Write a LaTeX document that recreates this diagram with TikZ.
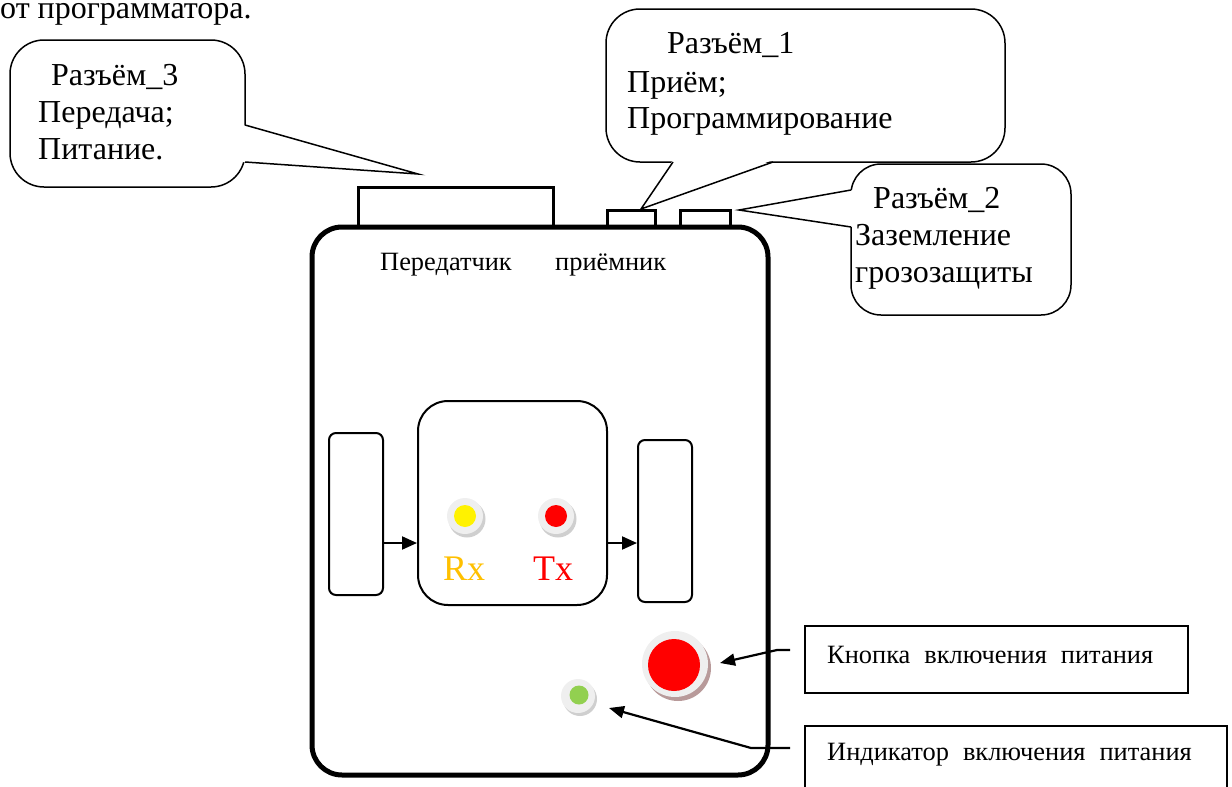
\documentclass[tikz,border=0pt]{standalone}
\usepackage{fontspec}
\setmainfont{Liberation Serif}
\usetikzlibrary{arrows.meta}
\definecolor{rxcol}{HTML}{FFC000}
\definecolor{ledgreen}{HTML}{92D050}
\definecolor{bezel}{HTML}{EFEFEF}
\definecolor{bezelshadow}{HTML}{CFCFCF}
\definecolor{btnshadow}{HTML}{B89A9A}
\begin{document}
\begin{tikzpicture}[x=1pt,y=-1pt,
  callout/.style={draw, line width=1.5pt, rounded corners=34pt, fill=white, inner sep=0pt},
  tail/.style={line width=1.5pt},
  big/.style={anchor=base west, inner sep=0pt, font=\fontsize{32}{38}\selectfont},
  small/.style={anchor=base west, inner sep=0pt, font=\fontsize{26.4}{30}\selectfont},
  lbl/.style={anchor=base west, inner sep=0pt, font=\fontsize{26.4}{30}\selectfont},
  conn/.style={draw, line width=3pt, inner sep=0pt, fill=white},
  body/.style={draw, line width=5pt, rounded corners=30pt, inner sep=0pt},
  part/.style={draw, line width=2pt, inner sep=0pt},
  infobox/.style={draw, line width=2pt, inner sep=0pt},
  arr/.style={line width=2.2pt, -{Triangle[length=15pt,width=12pt]}},
  sharr/.style={line width=2pt, -{Triangle[length=15pt,width=13pt]}}
]
\useasboundingbox (0,0) rectangle (1232,787);

% top text
\node[big] (prog) at (0,19) {от программатора.};

% callout 3
\node[callout, minimum width=235pt, minimum height=147pt] (c3) at (127.5,113.5) {};
\fill[white] (243,125) -- (418,174) -- (243,162) -- cycle;
\coordinate (c3a) at (245,125);
\coordinate (c3b) at (245,162);
\coordinate (c3tip) at (418,174);
\draw[tail] (c3a) -- (c3tip) -- (c3b);
\node[big] (t3a) at (51,85) {Разъём\_3};
\node[big] (t3b) at (38,122) {Передача;};
\node[big] (t3c) at (38,159) {Питание.};

% callout 1
\node[callout, minimum width=399pt, minimum height=153pt] (c1) at (805.5,85.5) {};
\fill[white] (673,160) -- (641,209) -- (773,160) -- cycle;
\coordinate (c1a) at (673,162);
\coordinate (c1b) at (773,162);
\coordinate (c1tip) at (641,209);
\draw[tail] (c1a) -- (c1tip) -- (c1b);
\node[big] (t1a) at (667,53) {Разъём\_1};
\node[big] (t1b) at (627,92) {Приём;};
\node[big] (t1c) at (627,128) {Программирование};

% callout 2
\node[callout, rounded corners=30pt, minimum width=220pt, minimum height=151pt] (c2) at (961,239.5) {};
\fill[white] (853,190) -- (739,210) -- (853,227) -- cycle;
\coordinate (c2a) at (851,190);
\coordinate (c2b) at (851,227);
\coordinate (c2tip) at (739,210);
\draw[tail] (c2a) -- (c2tip) -- (c2b);
\node[big] (t2a) at (873,208) {Разъём\_2};
\node[big] (t2b) at (855,245) {Заземление};
\node[big] (t2c) at (855,282) {грозозащиты};

% connectors on top
\node[conn, minimum width=195pt, minimum height=40pt] (k3) at (455.5,207) {};
\node[conn, minimum width=48pt, minimum height=17pt] (k1) at (631,218.5) {};
\node[conn, minimum width=50pt, minimum height=17pt] (k2) at (705,218.5) {};

% body
\node[body, minimum width=456pt, minimum height=548pt] (dev) at (540,501) {};
\node[small] (tx) at (380,270) {Передатчик};
\node[small] (rx) at (555,270) {приёмник};

% inner parts
\node[part, rounded corners=7pt, minimum width=54pt, minimum height=162pt] (lr) at (356,514) {};
\node[part, rounded corners=30pt, minimum width=189pt, minimum height=204pt] (mid) at (512.5,503) {};
\node[part, rounded corners=7pt, minimum width=54pt, minimum height=162pt] (rr) at (665,521) {};
\coordinate (ay) at (0,543);
\draw[sharr] (lr.east |- ay) -- (mid.west |- ay);
\draw[sharr] (mid.east |- ay) -- (rr.west |- ay);

% LEDs
\fill[bezelshadow] (467,519) circle (18.5pt);
\fill[bezel] (465,516) circle (18pt);
\fill[yellow] (465,516) circle (11pt);
\node[inner sep=0pt, minimum size=22pt] (ledrx) at (465,516) {};
\fill[bezelshadow] (558,519) circle (18.5pt);
\fill[bezel] (556,516) circle (18pt);
\fill[red] (556,516) circle (11pt);
\node[inner sep=0pt, minimum size=22pt] (ledtx) at (556,516) {};
\node[anchor=base west, inner sep=0pt, font=\fontsize{36}{40}\selectfont, text=rxcol] (rxl) at (443,580) {Rx};
\node[anchor=base west, inner sep=0pt, font=\fontsize{36}{40}\selectfont, text=red] (txl) at (533,580) {Tx};

% power button
\fill[btnshadow] (678,668) circle (33pt);
\fill[bezel] (675,664) circle (33pt);
\fill[red] (674,665) circle (26pt);
\node[inner sep=0pt, minimum size=66pt] (btn) at (675,664) {};

% power indicator
\fill[bezelshadow] (580,699) circle (17pt);
\fill[bezel] (578,696) circle (17pt);
\fill[ledgreen] (579,695) circle (9.5pt);
\node[inner sep=0pt, minimum size=34pt] (ind) at (578,696) {};

% info boxes
\node[infobox, minimum width=383pt, minimum height=67pt] (b1) at (996.5,659.5) {};
\node[lbl] (b1t) at (827,663) {Кнопка\hspace{14pt}включения\hspace{14pt}питания};
\begin{scope}
\clip (0,0) rectangle (1232,787);
\node[infobox, minimum width=422pt, minimum height=80pt] (b2) at (1016,766) {};
\end{scope}
\node[lbl] (b2t) at (827,760) {Индикатор\hspace{14pt}включения\hspace{14pt}питания};

% pointer arrows
\coordinate (p1) at (790,650);
\coordinate (p1m) at (777,650);
\coordinate (p1t) at (720,663);
\draw[arr] (p1) -- (p1m) -- (p1t);
\coordinate (p2) at (790,748);
\coordinate (p2m) at (751,748);
\coordinate (p2t) at (609,708);
\draw[arr] (p2) -- (p2m) -- (p2t);
\end{tikzpicture}
\end{document}
